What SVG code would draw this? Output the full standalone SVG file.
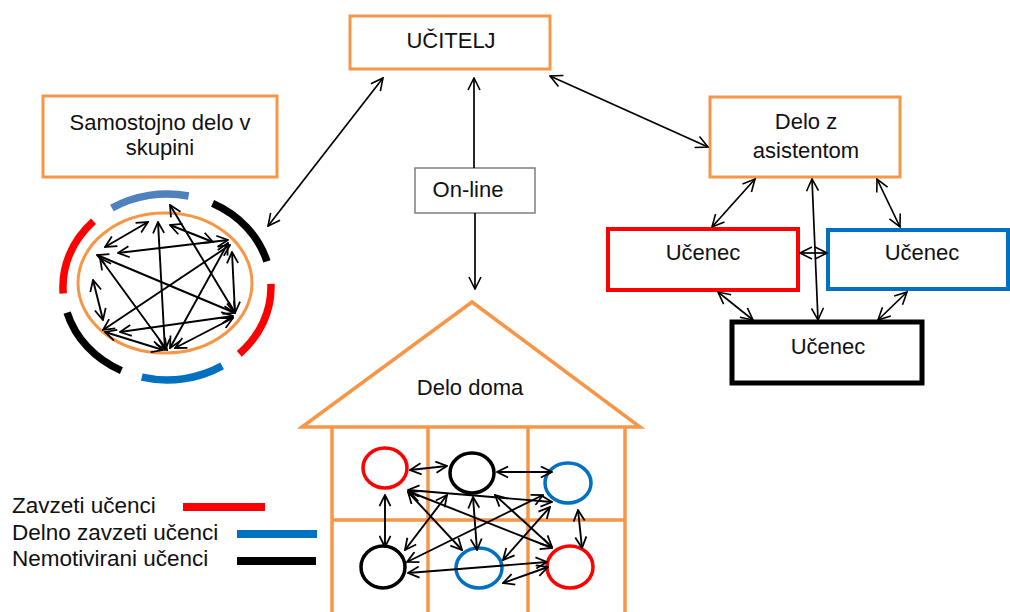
<svg xmlns="http://www.w3.org/2000/svg" width="1010" height="612" viewBox="0 0 1010 612">
  <style>
    .t { font-family: "Liberation Sans", Arial, sans-serif; font-size: 22px; fill: #111; text-anchor: middle; }
    .lg { font-family: "Liberation Sans", Arial, sans-serif; font-size: 22.5px; fill: #111; }
    .box { fill: #fff; stroke: #f79646; stroke-width: 3; }
    .ln { fill: none; stroke: #000; stroke-width: 1.7; marker-start: url(#ah); marker-end: url(#ah); }
    .sm { fill: none; stroke: #000; stroke-width: 1.9; marker-start: url(#as); marker-end: url(#as); }
    .arc { fill: none; stroke-width: 7.5; }
    .house { fill: none; stroke: #f79646; stroke-width: 3.5; }
    .ring { fill: none; stroke-width: 3.5; }
  </style>
  <defs>
    <marker id="ah" viewBox="0 0 14 14" refX="13" refY="7" markerWidth="14" markerHeight="14" markerUnits="userSpaceOnUse" orient="auto-start-reverse">
      <path d="M1,1 L13,7 L1,13" fill="none" stroke="#000" stroke-width="1.6"/>
    </marker>
    <marker id="as" viewBox="0 0 14 14" refX="13" refY="7" markerWidth="13" markerHeight="13" markerUnits="userSpaceOnUse" orient="auto-start-reverse">
      <path d="M1,1 L13,7 L1,13" fill="none" stroke="#000" stroke-width="1.9"/>
    </marker>
  </defs>

  <rect width="1010" height="612" fill="#fff"/>

  <!-- teacher -->
  <g id="ucitelj">
    <rect class="box" x="350" y="16" width="200" height="53"/>
    <text class="t" x="451" y="48" font-size="23">UČITELJ</text>
  </g>

  <!-- online label -->
  <g id="online">
    <rect x="415" y="168" width="120" height="45" fill="#fff" stroke="#7f7f7f" stroke-width="1.5"/>
    <text class="t" x="468" y="197">On-line</text>
  </g>

  <!-- group work -->
  <g id="skupina">
    <rect class="box" x="43" y="96" width="234" height="81"/>
    <text class="t" x="160" y="130">Samostojno delo v</text>
    <text class="t" x="160" y="155">skupini</text>
    <ellipse cx="165" cy="283" rx="87" ry="70" fill="none" stroke="#f79646" stroke-width="3"/>
    <path class="arc" stroke="#4f81bd" d="M111.9,208.1 A104,93 0 0 1 188.6,196.0"/>
    <path class="arc" stroke="#000" d="M212.6,203.4 A104,93 0 0 1 266.9,261.4"/>
    <path class="arc" stroke="#f00" d="M270.9,283.8 A104,93 0 0 1 239.3,353.9"/>
    <path class="arc" stroke="#0070c0" d="M222.1,365.9 A104,93 0 0 1 141.8,377.2"/>
    <path class="arc" stroke="#000" d="M121.4,370.6 A104,93 0 0 1 67.1,312.6"/>
    <path class="arc" stroke="#f00" d="M63.2,293.5 A104,93 0 0 1 93.5,221.2"/>
  </g>

  <!-- assistant -->
  <g id="asistent">
    <rect class="box" x="710" y="97" width="190" height="80"/>
    <text class="t" x="806" y="129">Delo z</text>
    <text class="t" x="806" y="158">asistentom</text>
  </g>

  <g id="ucenec-rdec">
    <rect x="608" y="229" width="190" height="61" fill="#fff" stroke="#f00" stroke-width="4"/>
    <text class="t" x="703" y="260" font-size="23">Učenec</text>
  </g>
  <g id="ucenec-moder">
    <rect x="828" y="230" width="180" height="59" fill="#fff" stroke="#0070c0" stroke-width="4"/>
    <text class="t" x="922" y="260" font-size="23">Učenec</text>
  </g>
  <g id="ucenec-crn">
    <rect x="732" y="322" width="190" height="61" fill="#fff" stroke="#000" stroke-width="5"/>
    <text class="t" x="828" y="354" font-size="23">Učenec</text>
  </g>

  <!-- home -->
  <g id="dom">
    <path class="house" d="M302,427 L472,302 L640,427 Z"/>
    <text class="t" x="470" y="395">Delo doma</text>
    <line class="house" x1="332" y1="427" x2="332" y2="612"/>
    <line class="house" x1="428" y1="427" x2="428" y2="612" stroke-width="5.5"/>
    <line class="house" x1="528" y1="427" x2="528" y2="612" stroke-width="5.5"/>
    <line class="house" x1="625" y1="427" x2="625" y2="612"/>
    <line class="house" x1="332" y1="520" x2="625" y2="520"/>
    <ellipse class="ring" stroke="#f00" cx="385" cy="468" rx="22" ry="20"/>
    <ellipse class="ring" stroke="#000" cx="472" cy="473" rx="22" ry="20"/>
    <ellipse class="ring" stroke="#0070c0" cx="568" cy="483" rx="23" ry="20"/>
    <ellipse class="ring" stroke="#000" cx="383" cy="567" rx="22" ry="21"/>
    <ellipse class="ring" stroke="#0070c0" cx="479" cy="568" rx="23" ry="20"/>
    <ellipse class="ring" stroke="#f00" cx="570" cy="567" rx="23" ry="21"/>
  </g>

  <!-- legend -->
  <g id="legenda">
    <text class="lg" x="12" y="513">Zavzeti učenci</text>
    <text class="lg" x="12" y="540">Delno zavzeti učenci</text>
    <text class="lg" x="12" y="566">Nemotivirani učenci</text>
    <line x1="183" y1="507" x2="265" y2="507" stroke="#f00" stroke-width="8"/>
    <line x1="237" y1="534" x2="317" y2="534" stroke="#0070c0" stroke-width="8"/>
    <line x1="237" y1="561" x2="316" y2="561" stroke="#000" stroke-width="8"/>
  </g>

  <!-- connectors -->
  <g id="povezave">
    <line class="ln" x1="383" y1="78" x2="268" y2="226"/>
    <line x1="474" y1="78" x2="474" y2="168" stroke="#000" stroke-width="1.7" marker-start="url(#ah)"/>
    <line x1="475" y1="213" x2="475" y2="289" stroke="#000" stroke-width="1.7" marker-end="url(#ah)"/>
    <line class="ln" x1="550" y1="76" x2="708" y2="147"/>

    <line class="ln" x1="755" y1="179" x2="712" y2="227"/>
    <line class="ln" x1="812" y1="179" x2="818" y2="320"/>
    <line class="ln" x1="877" y1="179" x2="900" y2="227"/>
    <line class="ln" x1="800" y1="253" x2="827" y2="253"/>
    <line class="ln" x1="718" y1="292" x2="753" y2="320"/>
    <line class="ln" x1="907" y1="292" x2="878" y2="320"/>

    <!-- inside the group circle -->
    <line class="sm" x1="170" y1="205" x2="235" y2="313"/>
    <line class="sm" x1="158" y1="222" x2="165" y2="350"/>
    <line class="sm" x1="105" y1="247" x2="148" y2="222"/>
    <line class="sm" x1="228" y1="240" x2="118" y2="253"/>
    <line class="sm" x1="170" y1="225" x2="213" y2="242"/>
    <line class="sm" x1="97" y1="255" x2="235" y2="313"/>
    <line class="sm" x1="100" y1="258" x2="167" y2="350"/>
    <line class="sm" x1="228" y1="243" x2="170" y2="348"/>
    <line class="sm" x1="230" y1="245" x2="103" y2="330"/>
    <line class="sm" x1="232" y1="252" x2="235" y2="313"/>
    <line class="sm" x1="233" y1="316" x2="120" y2="332"/>
    <line class="sm" x1="105" y1="332" x2="163" y2="350"/>
    <line class="sm" x1="233" y1="318" x2="175" y2="348"/>
    <line class="sm" x1="93" y1="280" x2="103" y2="320"/>

    <!-- inside the house -->
    <line class="sm" x1="410" y1="470" x2="447" y2="466"/>
    <line class="sm" x1="497" y1="472" x2="552" y2="472"/>
    <line class="sm" x1="385" y1="495" x2="385" y2="547"/>
    <line class="sm" x1="578" y1="510" x2="582" y2="548"/>
    <line class="sm" x1="473" y1="497" x2="477" y2="550"/>
    <line class="sm" x1="408" y1="490" x2="552" y2="502"/>
    <line class="sm" x1="408" y1="492" x2="462" y2="550"/>
    <line class="sm" x1="410" y1="492" x2="552" y2="548"/>
    <line class="sm" x1="447" y1="495" x2="405" y2="550"/>
    <line class="sm" x1="543" y1="495" x2="407" y2="562"/>
    <line class="sm" x1="495" y1="495" x2="552" y2="547"/>
    <line class="sm" x1="550" y1="507" x2="503" y2="560"/>
    <line class="sm" x1="408" y1="573" x2="547" y2="562"/>
    <line class="sm" x1="503" y1="583" x2="548" y2="567"/>
  </g>
</svg>
